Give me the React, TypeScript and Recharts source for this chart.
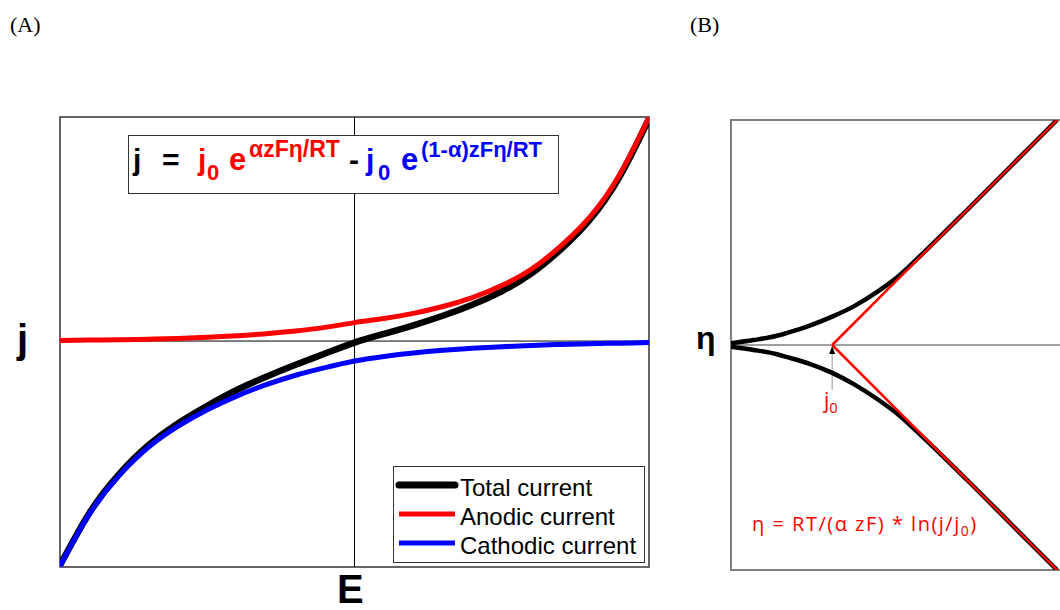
import React from "react";
import {
  LineChart,
  Line,
  XAxis,
  YAxis,
  Legend,
  ReferenceLine,
  ReferenceArea,
} from "recharts";

// Panel A: current density vs. electrode potential (arbitrary units, j0 = 1)
const potential = [-10, -9, -8, -7, -6, -5, -4, -3, -2, -1, 0, 1, 2, 3, 4, 5, 6, 7, 8, 9, 10];
const totalCurrent = [-11.81, -9.05, -7.02, -5.49, -4.34, -3.41, -2.58, -1.88, -1.25, -0.66, -0.08, 0.38, 0.83, 1.33, 1.91, 2.62, 3.55, 4.82, 6.41, 8.65, 11.71];
const anodicCurrent = [0.03, 0.05, 0.07, 0.1, 0.14, 0.2, 0.28, 0.39, 0.53, 0.72, 0.97, 1.19, 1.46, 1.82, 2.29, 2.92, 3.78, 5.0, 6.55, 8.76, 11.79];
const cathodicCurrent = [-11.84, -9.1, -7.1, -5.6, -4.5, -3.62, -2.9, -2.3, -1.8, -1.4, -1.05, -0.81, -0.63, -0.49, -0.38, -0.3, -0.23, -0.18, -0.14, -0.11, -0.08];

// Panel B: overpotential vs. ln(j/j0)
const lnCurrent = [-2.25, -1.75, -1.25, -1.0, -0.5, 0, 0.5, 1.0, 1.5, 2.0, 3.0, 4.0, 5.0];
const anodicEta = [0.04, 0.11, 0.2, 0.27, 0.43, 0.63, 0.87, 1.18, 1.55, 2.02, 3.0, 4.0, 5.0];
const cathodicEta = [-0.04, -0.11, -0.2, -0.27, -0.42, -0.62, -0.88, -1.2, -1.57, -2.03, -3.0, -4.0, -5.0];
const tafelLn = [0, 5];
const tafelAnodic = [0, 5];
const tafelCathodic = [0, -5];

const legendOrder = ["Total current", "Anodic current", "Cathodic current"];

const SANS = "'Liberation Sans', Arial, sans-serif";
const SERIF = "'Liberation Serif', 'Times New Roman', serif";
const NOTE = "'Open Sans', 'Noto Sans', sans-serif";

const rowsA = potential.map((E, i) => ({
  E,
  total: totalCurrent[i],
  anodic: anodicCurrent[i],
  cathodic: cathodicCurrent[i],
}));

const rowsB = lnCurrent.map((x, i) => ({ x, up: anodicEta[i], down: cathodicEta[i] }));
const tafelUp = tafelLn.map((x, i) => ({ x, eta: tafelAnodic[i] }));
const tafelDown = tafelLn.map((x, i) => ({ x, eta: tafelCathodic[i] }));

const legendWidths: Record<string, number> = {
  "Total current": 7,
  "Anodic current": 5,
  "Cathodic current": 5,
};

const renderLegend = (props: any) => {
  const items = [...(props.payload || [])].sort(
    (a: any, b: any) => legendOrder.indexOf(a.value) - legendOrder.indexOf(b.value)
  );
  return (
    <div
      style={{
        width: 252,
        height: 97,
        boxSizing: "border-box",
        border: "1px solid #333",
        background: "#fff",
        paddingTop: 3,
      }}
    >
      {items.map((item: any) => (
        <div key={item.value} style={{ display: "flex", alignItems: "center", height: 29 }}>
          <svg width={64} height={10} style={{ marginLeft: 1, flex: "none" }}>
            <line
              x1={4}
              x2={60}
              y1={5}
              y2={5}
              stroke={item.color}
              strokeWidth={legendWidths[item.value] || 5}
              strokeLinecap={item.value === "Total current" ? "round" : "butt"}
            />
          </svg>
          <span
            style={{
              marginLeft: 1,
              fontSize: 24,
              fontFamily: SANS,
              color: "#000",
              lineHeight: "24px",
              whiteSpace: "nowrap",
              position: "relative",
              top: 3,
            }}
          >
            {item.value}
          </span>
        </div>
      ))}
    </div>
  );
};

// Butler-Volmer equation box
const Formula = () => (
  <svg
    width={431}
    height={59}
    style={{ position: "absolute", left: 128, top: 135 }}
    fontFamily={SANS}
    fontWeight="bold"
  >
    <rect x={0.5} y={0.5} width={430} height={58} fill="#fff" stroke="#333" />
    <text x={5} y={35} fontSize={30} fill="#000">j</text>
    <text x={34} y={35} fontSize={30} fill="#000">=</text>
    <text x={70} y={35} fontSize={30} fill="#ff0000">j</text>
    <text x={79} y={45} fontSize={22} fill="#ff0000">0</text>
    <text x={101} y={35} fontSize={31} fill="#ff0000">e</text>
    <text x={121} y={22} fontSize={23} fill="#ff0000">αzFη/RT</text>
    <text x={221} y={35} fontSize={30} fill="#000">-</text>
    <text x={238} y={35} fontSize={30} fill="#0000ff">j</text>
    <text x={250} y={45} fontSize={22} fill="#0000ff">0</text>
    <text x={273} y={35} fontSize={31} fill="#0000ff">e</text>
    <text x={293} y={22} fontSize={22} fill="#0000ff">(1-α)zFη/RT</text>
  </svg>
);

const ArrowToJ0 = (props: any) => {
  const { x1, y1, x2, y2 } = props;
  const top = Math.min(y1, y2);
  const bottom = Math.max(y1, y2);
  return (
    <g>
      <line x1={x1} x2={x2} y1={bottom} y2={top + 6} stroke="#9a9a9a" strokeWidth={1} />
      <path d={`M${x1},${top + 1} L${x1 - 3},${top + 9} L${x1 + 3},${top + 9} Z`} fill="#000" />
    </g>
  );
};

const PanelA = () => (
  <div style={{ position: "absolute", left: 0, top: 0 }}>
    <LineChart width={700} height={610} data={rowsA} margin={{ top: 117, left: 60, right: 51, bottom: 43 }}>
      <XAxis dataKey="E" type="number" domain={[-10, 10]} hide allowDataOverflow />
      <YAxis type="number" domain={[-11.9, 11.8]} hide allowDataOverflow />
      <ReferenceArea x1={-10} x2={10} y1={-11.9} y2={11.8} fill="none" stroke="#333" strokeWidth={1.5} />
      <ReferenceLine x={0} stroke="#000" strokeWidth={1} />
      <ReferenceLine y={0} stroke="#000" strokeWidth={1} />
      <Line
        dataKey="total"
        name="Total current"
        type="natural"
        stroke="#000"
        strokeWidth={6.5}
        dot={false}
        isAnimationActive={false}
      />
      <Line
        dataKey="anodic"
        name="Anodic current"
        type="natural"
        stroke="#ff0000"
        strokeWidth={5}
        dot={false}
        isAnimationActive={false}
      />
      <Line
        dataKey="cathodic"
        name="Cathodic current"
        type="natural"
        stroke="#0000ff"
        strokeWidth={5}
        dot={false}
        isAnimationActive={false}
      />
      <Legend
        layout="horizontal"
        verticalAlign="middle"
        align="center"
        content={renderLegend}
        wrapperStyle={{ left: 393, top: 466, width: 252, height: 97 }}
      />
    </LineChart>
    <Formula />
    <div style={{ position: "absolute", left: 17, top: 314, fontFamily: SANS, fontWeight: "bold", fontSize: 40, lineHeight: "50px" }}>
      j
    </div>
    <div style={{ position: "absolute", left: 337, top: 564, fontFamily: SANS, fontWeight: "bold", fontSize: 40, lineHeight: "50px" }}>
      E
    </div>
  </div>
);

const PanelB = () => (
  <div style={{ position: "absolute", left: 700, top: 0 }}>
    <LineChart width={400} height={610} margin={{ top: 120, left: 31, right: 34, bottom: 40 }}>
      <XAxis dataKey="x" type="number" domain={[-2.25, 5.2]} hide allowDataOverflow />
      <YAxis type="number" domain={[-5, 5]} hide allowDataOverflow />
      <ReferenceArea x1={-2.25} x2={5.2} y1={-5} y2={5} fill="none" stroke="#7f7f7f" strokeWidth={2} />
      <ReferenceLine y={0} stroke="#808080" strokeWidth={1.5} />
      <ReferenceLine
        segment={[
          { x: 0, y: -1.0 },
          { x: 0, y: 0 },
        ]}
        shape={ArrowToJ0}
      />
      <Line data={rowsB} dataKey="up" type="monotone" stroke="#000" strokeWidth={4.5} dot={false} isAnimationActive={false} />
      <Line data={rowsB} dataKey="down" type="monotone" stroke="#000" strokeWidth={4.5} dot={false} isAnimationActive={false} />
      <Line data={tafelUp} dataKey="eta" type="linear" stroke="#ff0000" strokeWidth={2.5} dot={false} isAnimationActive={false} />
      <Line data={tafelDown} dataKey="eta" type="linear" stroke="#ff0000" strokeWidth={2.5} dot={false} isAnimationActive={false} />
    </LineChart>
    <div style={{ position: "absolute", left: -4, top: 318, fontFamily: SANS, fontWeight: "bold", fontSize: 32, lineHeight: "40px" }}>
      η
    </div>
    <div style={{ position: "absolute", left: 124, top: 387, fontFamily: NOTE, fontSize: 21, color: "#ff0000", lineHeight: "26px" }}>
      j<sub style={{ fontSize: 15 }}>0</sub>
    </div>
    <div
      style={{
        position: "absolute",
        left: 52,
        top: 511,
        fontFamily: NOTE,
        fontSize: 20,
        letterSpacing: 1.5,
        color: "#ff0000",
        lineHeight: "26px",
        whiteSpace: "nowrap",
      }}
    >
      η = RT/(α zF) * ln(j/j<sub style={{ fontSize: 14 }}>0</sub>)
    </div>
  </div>
);

export default function App() {
  return (
    <div
      style={{
        position: "fixed",
        left: 0,
        top: 0,
        width: 1060,
        height: 610,
        overflow: "hidden",
        background: "#fff",
      }}
    >
      <div style={{ position: "absolute", left: 10, top: 12, fontFamily: SERIF, fontSize: 22 }}>(A)</div>
      <div style={{ position: "absolute", left: 690, top: 12, fontFamily: SERIF, fontSize: 22 }}>(B)</div>
      <PanelA />
      <PanelB />
    </div>
  );
}
